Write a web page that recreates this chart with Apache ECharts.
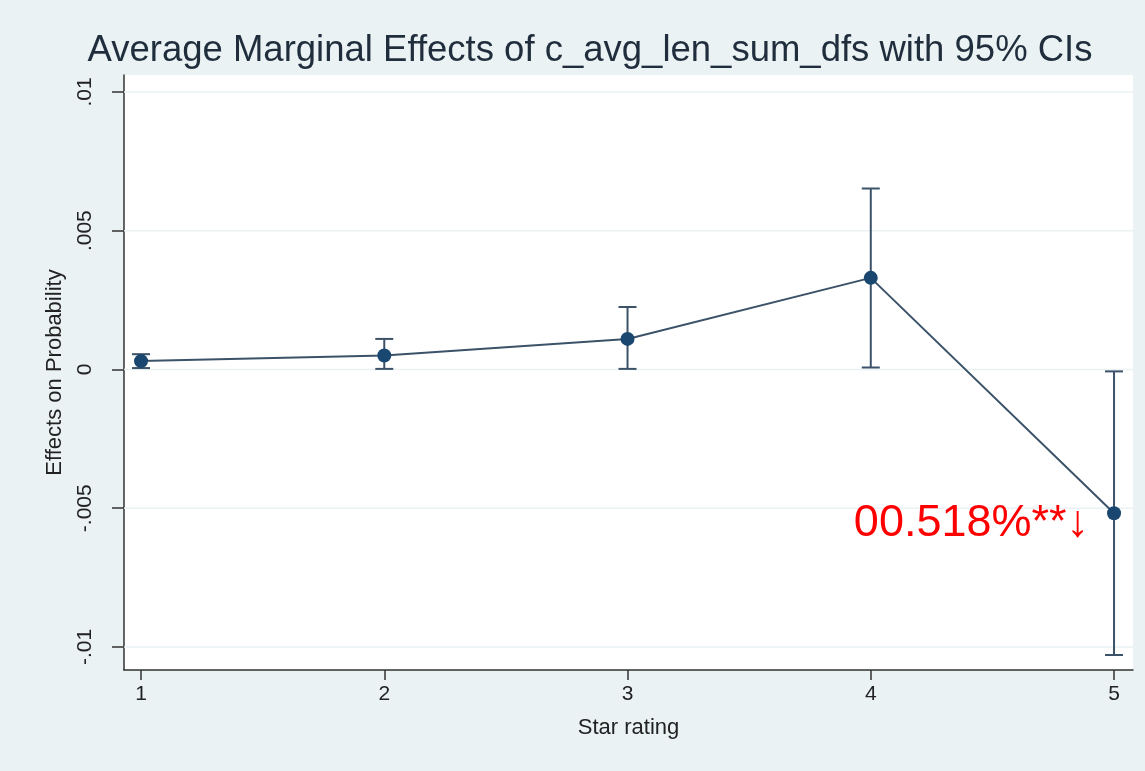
<!DOCTYPE html>
<html>
<head>
<meta charset="utf-8">
<script src="https://cdn.jsdelivr.net/npm/echarts@6/dist/echarts.min.js"></script>
<style>html,body{margin:0;padding:0;background:#eaf2f3;}#c{width:1145px;height:771px;}</style>
</head>
<body>
<div id="c"></div>
<script>
const stars = [1, 2, 3, 4, 5];
const ame = [0.0003, 0.0005, 0.0011, 0.0033, -0.00518];
const ciLow = [0.00005, 0.00002, 0.00002, 0.00007, -0.01029];
const ciHigh = [0.00055, 0.0011, 0.00225, 0.00652, -0.00007];
const yTicks = [-0.01, -0.005, 0, 0.005, 0.01];
const xTicks = [1, 2, 3, 4, 5];
const annotation = '00.518%**↓';
const annotIndex = 4;

const chart = echarts.init(document.getElementById('c'));
const fmtY = v => v === 0 ? '0' : String(+v.toFixed(4)).replace('0.', '.');
const lineColor = '#3b5268';
const markColor = '#1a476f';

chart.setOption({
  backgroundColor: '#eaf2f3',
  animation: false,
  title: {
    text: 'Average Marginal Effects of c_avg_len_sum_dfs with 95% CIs',
    left: 585, top: 27, textAlign: 'center',
    textStyle: {fontFamily: 'Liberation Sans', fontSize: 36.5, fontWeight: 'normal', color: '#1f2d3d'}
  },
  grid: {left: 124, right: 12, top: 75, bottom: 101, show: true, backgroundColor: '#ffffff', borderWidth: 0},
  xAxis: {
    type: 'value', min: 0.93, max: 5.078,
    name: 'Star rating', nameLocation: 'middle', nameGap: 47,
    nameTextStyle: {fontFamily: 'Liberation Sans', fontSize: 22, color: '#222'},
    axisLine: {show: true, onZero: false, lineStyle: {color: '#333', width: 1.5}},
    axisTick: {show: true, length: 10, customValues: xTicks, lineStyle: {color: '#333', width: 1.5}},
    axisLabel: {customValues: xTicks, fontFamily: 'Liberation Sans', fontSize: 21, color: '#222', margin: 14},
    splitLine: {show: false}
  },
  yAxis: {
    type: 'value', min: -0.01083, max: 0.01061,
    name: 'Effects on Probability', nameLocation: 'middle', nameGap: 58, nameRotate: 90,
    nameTextStyle: {fontFamily: 'Liberation Sans', fontSize: 22, color: '#222'},
    axisLine: {show: true, onZero: false, lineStyle: {color: '#333', width: 1.5}},
    axisTick: {show: true, length: 12, customValues: yTicks, lineStyle: {color: '#333', width: 1.5}},
    axisLabel: {customValues: yTicks, rotate: 90, formatter: fmtY, fontFamily: 'Liberation Sans', fontSize: 21, color: '#222', margin: 28},
    splitLine: {show: false}
  },
  series: [
    {
      type: 'custom',
      z: 1,
      silent: true,
      data: yTicks.map(v => [v]),
      encode: {y: 0},
      renderItem: (params, api) => {
        const cs = params.coordSys;
        const y = api.coord([cs.x, api.value(0)])[1];
        const yy = api.coord([0.93, api.value(0)])[1];
        return {type: 'line', shape: {x1: cs.x, y1: yy, x2: cs.x + cs.width, y2: yy},
          style: {stroke: '#eaf2f3', lineWidth: 1.5}};
      }
    },
    {
      type: 'custom',
      z: 2,
      data: stars.map((s, i) => [s, ciLow[i], ciHigh[i]]),
      renderItem: (params, api) => {
        const lo = api.coord([api.value(0), api.value(1)]);
        const hi = api.coord([api.value(0), api.value(2)]);
        const w = 9;
        const st = {stroke: lineColor, lineWidth: 2};
        return {type: 'group', children: [
          {type: 'line', shape: {x1: lo[0], y1: lo[1], x2: hi[0], y2: hi[1]}, style: st},
          {type: 'line', shape: {x1: lo[0] - w, y1: lo[1], x2: lo[0] + w, y2: lo[1]}, style: st},
          {type: 'line', shape: {x1: hi[0] - w, y1: hi[1], x2: hi[0] + w, y2: hi[1]}, style: st}
        ]};
      }
    },
    {
      type: 'line',
      z: 3,
      data: stars.map((s, i) => ({
        value: [s, ame[i]],
        label: i === annotIndex ? {
          show: true, formatter: annotation, position: 'left', distance: 18, offset: [0, 10],
          fontFamily: 'Liberation Sans', fontSize: 45, color: '#ff0000'
        } : {show: false}
      })),
      symbol: 'circle', symbolSize: 14,
      itemStyle: {color: markColor},
      lineStyle: {color: lineColor, width: 2}
    }
  ]
});
</script>
</body>
</html>
